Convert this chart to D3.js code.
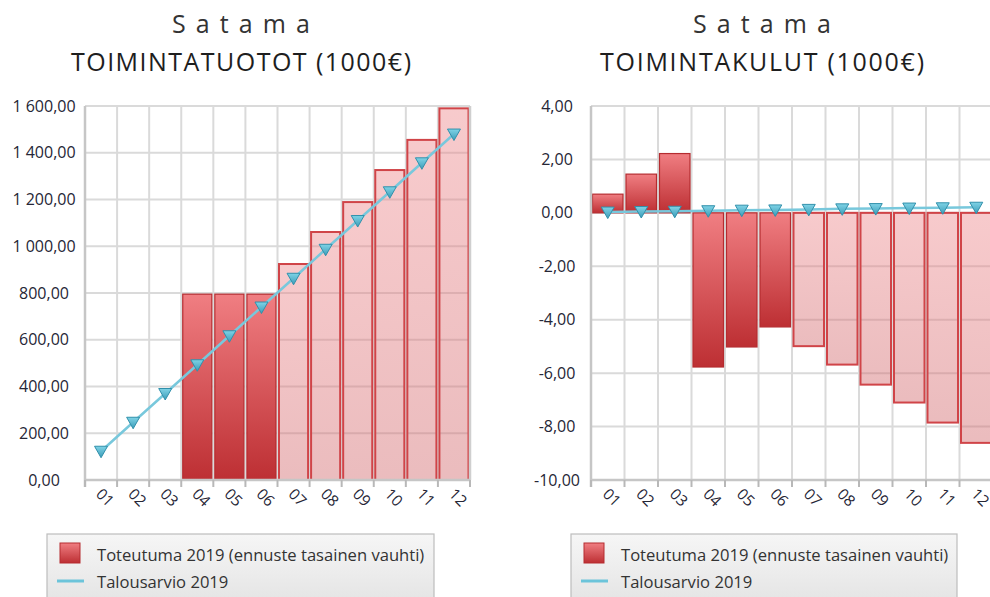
<!DOCTYPE html>
<html><head><meta charset="utf-8">
<script src="https://cdn.jsdelivr.net/npm/d3@7"></script>
<style>
html,body{margin:0;padding:0;background:#fff;}
svg{display:block;font-family:"Open Sans","Noto Sans",sans-serif;}
</style></head>
<body>
<svg id="chart" width="990" height="597"></svg>
<script>
// ---- data ----
const months = ["01","02","03","04","05","06","07","08","09","10","11","12"];
const actualCount = 6; // months 01-06 are actual, 07-12 forecast
const incomeBars = [0, 0, 0, 795, 795, 795, 924, 1061, 1189, 1326, 1455, 1590];
const incomeBudget = [123, 247, 370, 493, 617, 740, 863, 987, 1110, 1233, 1357, 1480];
const incomeTicks = [0, 200, 400, 600, 800, 1000, 1200, 1400, 1600];
const costBars = [0.70, 1.45, 2.22, -5.77, -5.02, -4.27, -4.99, -5.68, -6.43, -7.10, -7.85, -8.61];
const costBudget = [0.03, 0.05, 0.06, 0.08, 0.10, 0.11, 0.13, 0.15, 0.16, 0.18, 0.19, 0.21];
const costTicks = [-10, -8, -6, -4, -2, 0, 2, 4];
const titleTop = "S a t a m a";
const titles = ["TOIMINTATUOTOT (1000€)", "TOIMINTAKULUT (1000€)"];
const legendLabels = ["Toteutuma 2019 (ennuste tasainen vauhti)", "Talousarvio 2019"];

const fi = d3.formatLocale({decimal: ",", thousands: " ", grouping: [3], currency: ["", "€"], minus: "-"});
const fmt = fi.format(",.2f");

const svg = d3.select("#chart");
const defs = svg.append("defs");
function grad(id, c1, c2) {
  const g = defs.append("linearGradient").attr("id", id).attr("x1", 0).attr("y1", 0).attr("x2", 0).attr("y2", 1);
  g.append("stop").attr("offset", "0%").attr("stop-color", c1);
  g.append("stop").attr("offset", "100%").attr("stop-color", c2);
}
grad("gActual", "#f07e82", "#bd2f33");
grad("gFore", "#ee8a8e", "#d26a6e");
grad("gMarker", "#7fd3e6", "#3b9cb8");
grad("gLegend", "#f6f6f6", "#e4e4e4");

const panels = [
  {bars: incomeBars, budget: incomeBudget, ticks: incomeTicks, domain: [0, 1600],
   left: 85, right: 470, labelX: 44, titleX: 241, title: titles[0], titleW: 340, topW: 138,
   legendX: 47, legendW: 387},
  {bars: costBars, budget: costBudget, ticks: costTicks, domain: [-10, 4],
   left: 591, right: 993, labelX: 557, titleX: 762, title: titles[1], titleW: 324, topW: 138,
   legendX: 571, legendW: 386}
];
const plotTop = 106, plotBottom = 480;

panels.forEach(p => {
  const g = svg.append("g");
  const x = d3.scaleBand().domain(months).range([p.left, p.right]).padding(0);
  const y = d3.scaleLinear().domain(p.domain).range([plotBottom, plotTop]);
  const step = x.step();

  // titles
  g.append("text").attr("x", p.titleX).attr("y", 33).attr("text-anchor", "middle")
    .attr("font-size", 25).attr("fill", "#333")
    .attr("textLength", p.topW).attr("lengthAdjust", "spacing").text(titleTop);
  g.append("text").attr("x", p.titleX).attr("y", 71).attr("text-anchor", "middle")
    .attr("font-size", 25).attr("fill", "#1e1e1e")
    .attr("textLength", p.titleW).attr("lengthAdjust", "spacing").text(p.title);

  // gridlines
  g.append("g").selectAll("line").data(p.ticks).join("line")
    .attr("x1", p.left).attr("x2", p.right).attr("y1", d => y(d)).attr("y2", d => y(d))
    .attr("stroke", "#dadada").attr("stroke-width", 2);
  const bounds = d3.range(months.length + 1);
  g.append("g").selectAll("line").data(bounds).join("line")
    .attr("x1", i => p.left + i * step).attr("x2", i => p.left + i * step)
    .attr("y1", plotTop).attr("y2", plotBottom)
    .attr("stroke", "#dadada").attr("stroke-width", 2);

  // bars
  const y0 = y(0);
  g.append("g").selectAll("rect").data(p.bars.map((v, i) => ({v, i})).filter(d => d.v !== 0)).join("rect")
    .attr("x", d => x(months[d.i]) + 1.5)
    .attr("width", step - 3)
    .attr("y", d => Math.min(y(d.v), y0))
    .attr("height", d => Math.abs(y(d.v) - y0))
    .attr("fill", d => d.i < actualCount ? "url(#gActual)" : "url(#gFore)")
    .attr("fill-opacity", d => d.i < actualCount ? 1 : 0.45)
    .attr("stroke", d => d.i < actualCount ? "#b52c30" : "#d04448")
    .attr("stroke-width", d => d.i < actualCount ? 1.2 : 2);

  // axes
  g.append("line").attr("x1", p.left).attr("x2", p.left).attr("y1", plotTop).attr("y2", plotBottom + 7)
    .attr("stroke", "#c6c6c6").attr("stroke-width", 2.5);
  g.append("line").attr("x1", p.right).attr("x2", p.right).attr("y1", plotTop).attr("y2", plotBottom)
    .attr("stroke", "#cfcfcf").attr("stroke-width", 2.5);
  g.append("line").attr("x1", p.left).attr("x2", p.right).attr("y1", plotBottom).attr("y2", plotBottom)
    .attr("stroke", "#c6c6c6").attr("stroke-width", 2.5);
  g.append("g").selectAll("line").data(bounds).join("line")
    .attr("x1", i => p.left + i * step).attr("x2", i => p.left + i * step)
    .attr("y1", plotBottom).attr("y2", plotBottom + 7)
    .attr("stroke", "#b8b8b8").attr("stroke-width", 2);

  // y tick labels
  g.append("g").selectAll("text").data(p.ticks).join("text")
    .attr("x", p.labelX).attr("y", d => y(d)).attr("dy", "0.35em")
    .attr("text-anchor", "middle").attr("font-size", 16).attr("fill", "#262636")
    .text(d => fmt(d));

  // x tick labels
  g.append("g").selectAll("text").data(months).join("text")
    .attr("transform", m => `translate(${x(m) + step / 2 - 6},${plotBottom + 15}) rotate(45)`)
    .attr("font-size", 15.5).attr("fill", "#262636").text(m => m);

  // budget line
  const line = d3.line().x((d, i) => x(months[i]) + step / 2).y(d => y(d));
  g.append("path").datum(p.budget).attr("d", line).attr("fill", "none")
    .attr("stroke", "#78c8dc").attr("stroke-width", 2.5);
  g.append("g").selectAll("path").data(p.budget).join("path")
    .attr("transform", (d, i) => `translate(${x(months[i]) + step / 2},${y(d)})`)
    .attr("d", "M-6.5,-5 L6.5,-5 L0,6.5 Z")
    .attr("fill", "url(#gMarker)").attr("stroke", "#3190ab").attr("stroke-width", 1);

  // legend
  const lg = g.append("g");
  lg.append("rect").attr("x", p.legendX).attr("y", 534).attr("width", p.legendW).attr("height", 70)
    .attr("fill", "url(#gLegend)").attr("stroke", "#bdbdbd").attr("stroke-width", 1.2);
  lg.append("rect").attr("x", p.legendX + 13).attr("y", 543).attr("width", 20).attr("height", 20)
    .attr("fill", "url(#gActual)").attr("stroke", "#b52c30").attr("stroke-width", 1);
  lg.append("line").attr("x1", p.legendX + 10).attr("x2", p.legendX + 37).attr("y1", 581).attr("y2", 581)
    .attr("stroke", "#6cc4da").attr("stroke-width", 3);
  lg.append("text").attr("x", p.legendX + 50).attr("y", 561).attr("font-size", 16.6).attr("fill", "#333")
    .text(legendLabels[0]);
  lg.append("text").attr("x", p.legendX + 50).attr("y", 588).attr("font-size", 16.6).attr("fill", "#333")
    .text(legendLabels[1]);
});
</script>
</body></html>
